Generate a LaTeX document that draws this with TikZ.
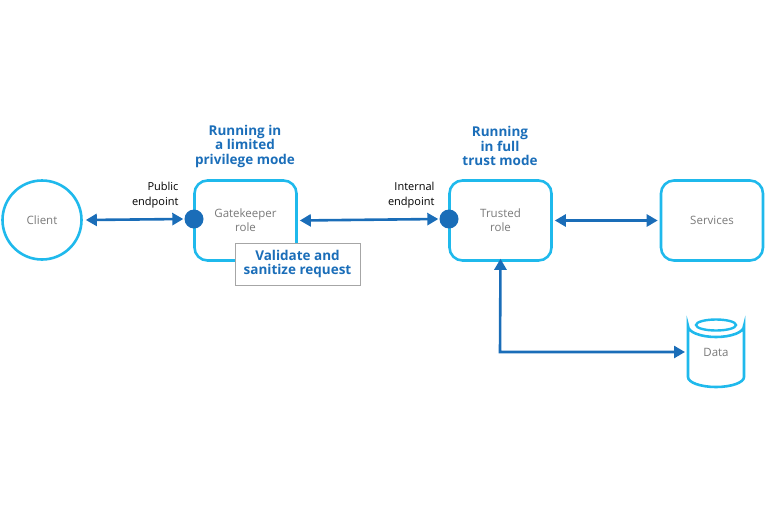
\documentclass[tikz,border=0pt]{standalone}
\usepackage{fontspec}
\setmainfont{Open Sans}
\usetikzlibrary{arrows.meta}
\definecolor{cyanb}{HTML}{1FB9EC}
\definecolor{arrowb}{HTML}{1A6DB8}
\definecolor{titleb}{HTML}{1B6EB9}
\definecolor{graytx}{HTML}{7A7A7A}
\begin{document}
\begin{tikzpicture}[x=1pt,y=-1pt,
  box/.style={draw=cyanb,line width=2.6pt,rounded corners=13pt,minimum width=102pt,minimum height=80pt,inner sep=0pt,font=\fontsize{11.5}{14}\selectfont,text=graytx,align=center},
  tip/.style={Triangle[length=11pt,width=12pt]},
  conn/.style={draw=arrowb,line width=2.6pt,{Triangle[length=11pt,width=12pt]}-{Triangle[length=11pt,width=12pt]}},
  dot/.style={circle,fill=arrowb,minimum size=19pt,inner sep=0pt},
  title/.style={font=\bfseries\fontsize{13.5}{14.5}\selectfont,text=titleb,align=center},
  lbl/.style={font=\fontsize{11}{15}\selectfont,align=right,anchor=east}]
\useasboundingbox (0,0) rectangle (767,511);
\node[draw=cyanb,line width=2.6pt,circle,minimum size=79pt,inner sep=0pt,font=\fontsize{11.5}{14}\selectfont,text=graytx] (client) at (42,220) {Client};
\node[box] (gate) at (245.5,220.5) {Gatekeeper\\role};
\node[box] (trusted) at (500.5,220.5) {Trusted\\role};
\node[box] (services) at (712,220.5) {Services};
\node[dot] (pub) at (194,219) {};
\node[dot] (int) at (449,219) {};
\node[draw=gray!70,line width=0.9pt,fill=white,minimum width=125pt,minimum height=42pt,inner sep=0pt,title] (val) at (297.5,264) {Validate and\\sanitize request};
\node[title] (t1) at (245,146) {Running in\\a limited\\privilege mode};
\node[title] (t2) at (500,146) {Running\\in full\\trust mode};
\node[lbl] (pl) at (182,195) {Public\\endpoint};
\node[lbl] (il) at (438,195) {Internal\\endpoint};
% cylinder
\draw[cyanb,line width=2.6pt,fill=white] (688,326) arc[start angle=180,end angle=0,x radius=28,y radius=11] -- (744,377) arc[start angle=0,end angle=180,x radius=28,y radius=10] -- cycle;
\draw[cyanb,line width=2.4pt] (716,325) ellipse[x radius=20,y radius=5.5];
\coordinate (data) at (687,352);
\node[font=\fontsize{11.5}{14}\selectfont,text=graytx] (datal) at (716,352) {Data};
\coordinate (corner) at (500,352);
% connectors
\draw[conn] ([xshift=3pt]client.east) -- ([xshift=-1pt]pub.west);
\draw[conn] ([xshift=2pt]gate.east) -- ([xshift=-1pt]int.west);
\draw[conn] ([xshift=2pt]trusted.east) -- ([xshift=-2pt]services.west);
\draw[conn] ([yshift=3pt]trusted.south) -- (corner) -- ([xshift=-2pt]data);
\end{tikzpicture}
\end{document}
